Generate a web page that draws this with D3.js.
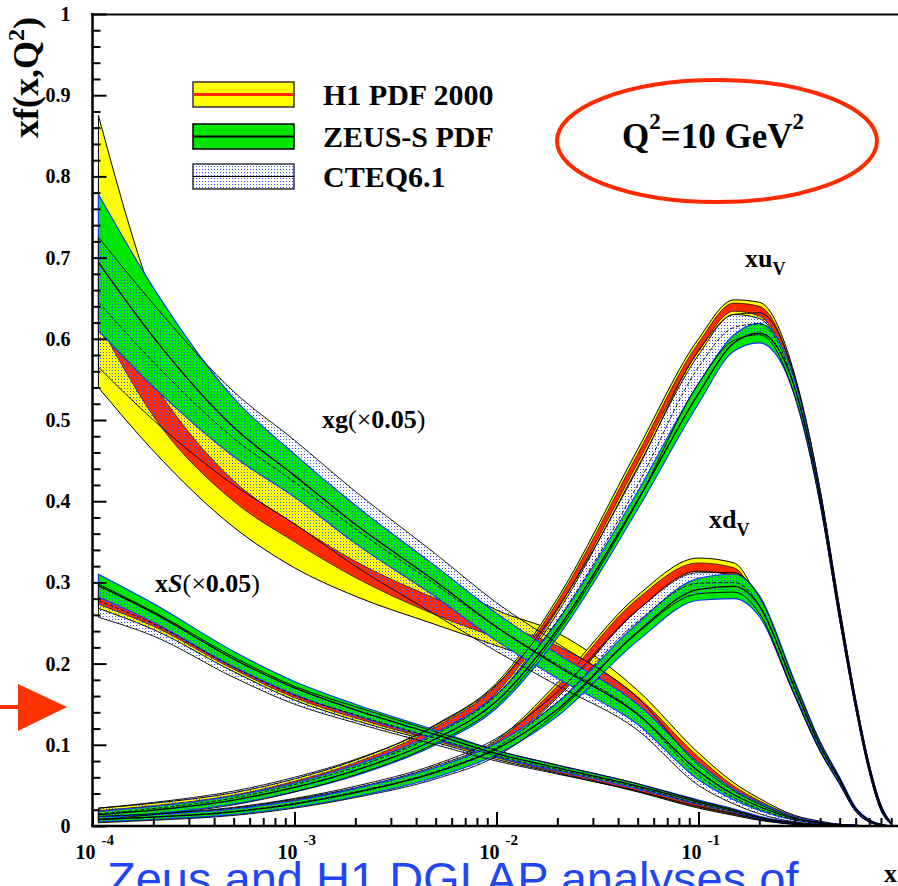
<!DOCTYPE html>
<html>
<head>
<meta charset="utf-8">
<style>
body { margin: 0; background: #fff; }
svg { display: block; }
text { font-family: "Liberation Serif", "Times New Roman", serif; font-weight: bold; fill: #000; }
text.caption { font-family: "Liberation Sans", Arial, sans-serif; font-weight: normal; fill: #1f45f5; }
</style>
</head>
<body>
<script src="https://cdn.jsdelivr.net/npm/d3@7/dist/d3.min.js"></script>
<script>
// x grid shared by every band
var xs = [1.07e-4, 2e-4, 5e-4, 1e-3, 2e-3, 5e-3, 1e-2, 2e-2, 5e-2, 0.1, 0.15, 0.2, 0.3, 0.4, 0.5, 0.6, 0.7, 0.8, 0.9];

// xg (x0.05)
var xgH1Lo    = [0.540, 0.462, 0.368, 0.318, 0.283, 0.248, 0.222, 0.195, 0.140, 0.065, 0.037, 0.022, 0.008, 0.003, 0.001, 0, 0, 0, 0];
var xgH1Hi    = [0.875, 0.650, 0.495, 0.435, 0.375, 0.308, 0.266, 0.238, 0.167, 0.090, 0.053, 0.034, 0.013, 0.006, 0.002, 0.001, 0, 0, 0];
var xgH1ExpLo = [0.620, 0.505, 0.400, 0.350, 0.306, 0.260, 0.232, 0.205, 0.146, 0.070, 0.041, 0.025, 0.009, 0.004, 0.001, 0, 0, 0, 0];
var xgH1ExpHi = [0.660, 0.545, 0.425, 0.372, 0.326, 0.280, 0.250, 0.222, 0.159, 0.085, 0.049, 0.031, 0.012, 0.005, 0.002, 0.001, 0, 0, 0];
var xgZeusLo  = [0.610, 0.541, 0.455, 0.405, 0.348, 0.282, 0.228, 0.182, 0.125, 0.057, 0.032, 0.019, 0.007, 0.003, 0.001, 0, 0, 0, 0];
var xgZeusHi  = [0.778, 0.663, 0.527, 0.458, 0.395, 0.320, 0.262, 0.212, 0.150, 0.078, 0.045, 0.029, 0.011, 0.005, 0.002, 0.001, 0, 0, 0];
var xgCteqLo  = [0.565, 0.500, 0.420, 0.372, 0.320, 0.260, 0.215, 0.173, 0.118, 0.050, 0.027, 0.015, 0.005, 0.002, 0, 0, 0, 0, 0];
var xgCteqHi  = [0.725, 0.643, 0.535, 0.475, 0.412, 0.335, 0.275, 0.225, 0.158, 0.075, 0.043, 0.027, 0.010, 0.004, 0.002, 0.001, 0, 0, 0];

// xS (x0.05)
var xsH1Lo    = [0.268, 0.242, 0.190, 0.155, 0.130, 0.103, 0.082, 0.065, 0.042, 0.022, 0.013, 0.007, 0.002, 0, 0, 0, 0, 0, 0];
var xsH1Hi    = [0.290, 0.260, 0.204, 0.168, 0.142, 0.112, 0.089, 0.071, 0.048, 0.028, 0.018, 0.010, 0.003, 0.001, 0, 0, 0, 0, 0];
var xsH1ExpLo = [0.273, 0.246, 0.193, 0.158, 0.133, 0.105, 0.084, 0.066, 0.043, 0.023, 0.014, 0.008, 0.002, 0, 0, 0, 0, 0, 0];
var xsH1ExpHi = [0.285, 0.256, 0.201, 0.165, 0.139, 0.110, 0.087, 0.069, 0.046, 0.026, 0.016, 0.009, 0.003, 0.001, 0, 0, 0, 0, 0];
var xsZeusLo  = [0.282, 0.251, 0.196, 0.162, 0.136, 0.107, 0.085, 0.068, 0.046, 0.027, 0.017, 0.009, 0.003, 0.001, 0, 0, 0, 0, 0];
var xsZeusHi  = [0.310, 0.274, 0.215, 0.178, 0.150, 0.118, 0.093, 0.075, 0.052, 0.032, 0.021, 0.012, 0.004, 0.001, 0, 0, 0, 0, 0];
var xsCteqLo  = [0.257, 0.234, 0.183, 0.150, 0.127, 0.100, 0.080, 0.064, 0.043, 0.024, 0.015, 0.008, 0.002, 0, 0, 0, 0, 0, 0];
var xsCteqHi  = [0.298, 0.264, 0.208, 0.172, 0.147, 0.116, 0.093, 0.075, 0.052, 0.031, 0.020, 0.011, 0.004, 0.001, 0, 0, 0, 0, 0];

// xu_V
var xuH1Lo    = [0.010, 0.016, 0.029, 0.046, 0.069, 0.111, 0.160, 0.262, 0.442, 0.580, 0.630, 0.625, 0.537, 0.398, 0.254, 0.145, 0.068, 0.020, 0.002];
var xuH1Hi    = [0.022, 0.028, 0.041, 0.058, 0.081, 0.125, 0.176, 0.280, 0.464, 0.600, 0.648, 0.645, 0.555, 0.414, 0.268, 0.156, 0.076, 0.026, 0.004];
var xuH1ExpLo = [0.013, 0.019, 0.032, 0.049, 0.072, 0.114, 0.164, 0.266, 0.447, 0.585, 0.634, 0.628, 0.540, 0.401, 0.257, 0.147, 0.070, 0.021, 0.003];
var xuH1ExpHi = [0.019, 0.025, 0.038, 0.055, 0.078, 0.122, 0.173, 0.276, 0.458, 0.595, 0.644, 0.640, 0.551, 0.411, 0.265, 0.154, 0.074, 0.024, 0.004];
var xuZeusLo  = [0.010, 0.015, 0.027, 0.042, 0.062, 0.100, 0.145, 0.232, 0.390, 0.520, 0.585, 0.595, 0.530, 0.398, 0.255, 0.146, 0.068, 0.020, 0.002];
var xuZeusHi  = [0.018, 0.024, 0.037, 0.053, 0.075, 0.115, 0.162, 0.252, 0.412, 0.545, 0.605, 0.619, 0.548, 0.412, 0.266, 0.155, 0.075, 0.025, 0.004];
var xuCteqLo  = [0.008, 0.014, 0.026, 0.042, 0.063, 0.102, 0.148, 0.238, 0.400, 0.545, 0.598, 0.605, 0.528, 0.396, 0.253, 0.144, 0.066, 0.019, 0.002];
var xuCteqHi  = [0.022, 0.029, 0.043, 0.060, 0.082, 0.124, 0.174, 0.268, 0.440, 0.585, 0.630, 0.632, 0.552, 0.414, 0.268, 0.156, 0.076, 0.026, 0.004];

// xd_V
var xdH1Lo    = [0.005, 0.008, 0.015, 0.025, 0.038, 0.063, 0.093, 0.158, 0.266, 0.314, 0.308, 0.262, 0.160, 0.092, 0.052, 0.018, 0.005, 0.001, 0];
var xdH1Hi    = [0.011, 0.014, 0.022, 0.033, 0.047, 0.074, 0.106, 0.176, 0.284, 0.330, 0.324, 0.276, 0.172, 0.100, 0.058, 0.022, 0.007, 0.002, 0];
var xdH1ExpLo = [0.006, 0.009, 0.016, 0.026, 0.040, 0.065, 0.095, 0.160, 0.266, 0.314, 0.308, 0.262, 0.161, 0.093, 0.052, 0.018, 0.005, 0.001, 0];
var xdH1ExpHi = [0.010, 0.013, 0.021, 0.032, 0.046, 0.072, 0.104, 0.172, 0.280, 0.324, 0.318, 0.272, 0.170, 0.099, 0.057, 0.021, 0.007, 0.002, 0];
var xdZeusLo  = [0.005, 0.008, 0.014, 0.023, 0.036, 0.060, 0.088, 0.135, 0.228, 0.278, 0.280, 0.258, 0.162, 0.094, 0.053, 0.019, 0.006, 0.001, 0];
var xdZeusHi  = [0.011, 0.014, 0.021, 0.031, 0.046, 0.072, 0.102, 0.152, 0.250, 0.305, 0.310, 0.284, 0.178, 0.104, 0.060, 0.023, 0.008, 0.002, 0];
var xdCteqLo  = [0.004, 0.007, 0.013, 0.022, 0.035, 0.058, 0.086, 0.140, 0.238, 0.286, 0.288, 0.262, 0.160, 0.092, 0.051, 0.018, 0.005, 0.001, 0];
var xdCteqHi  = [0.012, 0.015, 0.023, 0.034, 0.049, 0.076, 0.108, 0.165, 0.266, 0.312, 0.312, 0.282, 0.176, 0.103, 0.059, 0.022, 0.007, 0.002, 0];

// axes
var yMajorTicks = [0, 0.1, 0.2, 0.3, 0.4, 0.5, 0.6, 0.7, 0.8, 0.9, 1];
var yTickLabels = ["0", "0.1", "0.2", "0.3", "0.4", "0.5", "0.6", "0.7", "0.8", "0.9", "1"];
var xMajorTicks = [1e-4, 1e-3, 1e-2, 1e-1];
var xTickExps = ["-4", "-3", "-2", "-1"];
var legendNames = ["H1 PDF 2000", "ZEUS-S PDF", "CTEQ6.1"];

var W = 898, H = 886;
var x = d3.scaleLog().domain([1e-4, 1]).range([92.5, 900.5]);
var y = d3.scaleLinear().domain([0, 1]).range([826, 14]);

var svg = d3.select("body").append("svg").attr("width", W).attr("height", H);
var defs = svg.append("defs");
var pat = defs.append("pattern").attr("id", "dots")
    .attr("width", 3).attr("height", 3).attr("patternUnits", "userSpaceOnUse");
pat.append("rect").attr("x", 1).attr("y", 1).attr("width", 1).attr("height", 1).attr("fill", "#3355ff");
defs.append("clipPath").attr("id", "plotclip").append("rect")
    .attr("x", 92.5).attr("y", 14).attr("width", W - 92.5).attr("height", 812);

var dists = [
    {h1: [xgH1Lo, xgH1Hi], h1e: [xgH1ExpLo, xgH1ExpHi], zeus: [xgZeusLo, xgZeusHi], cteq: [xgCteqLo, xgCteqHi]},
    {h1: [xsH1Lo, xsH1Hi], h1e: [xsH1ExpLo, xsH1ExpHi], zeus: [xsZeusLo, xsZeusHi], cteq: [xsCteqLo, xsCteqHi]},
    {h1: [xuH1Lo, xuH1Hi], h1e: [xuH1ExpLo, xuH1ExpHi], zeus: [xuZeusLo, xuZeusHi], cteq: [xuCteqLo, xuCteqHi]},
    {h1: [xdH1Lo, xdH1Hi], h1e: [xdH1ExpLo, xdH1ExpHi], zeus: [xdZeusLo, xdZeusHi], cteq: [xdCteqLo, xdCteqHi]}
];

var area = d3.area()
    .x(function (d, i) { return x(xs[i]); })
    .y0(function (d) { return y(d[0]); })
    .y1(function (d) { return y(d[1]); })
    .curve(d3.curveMonotoneX);
var mid = d3.line()
    .x(function (d, i) { return x(xs[i]); })
    .y(function (d) { return y((d[0] + d[1]) / 2); })
    .curve(d3.curveMonotoneX);

var plot = svg.append("g").attr("clip-path", "url(#plotclip)");

function drawBands(key, fill, stroke, sw) {
    dists.forEach(function (d) {
        plot.append("path")
            .datum(d3.zip(d[key][0], d[key][1]))
            .attr("d", area)
            .attr("fill", fill)
            .attr("stroke", stroke)
            .attr("stroke-width", sw);
    });
}
drawBands("h1", "#ffff00", "#000", 1);
drawBands("h1e", "#ff2a00", "#000", 0.7);
drawBands("zeus", "#00e600", "#1030ff", 1.1);
drawBands("cteq", "url(#dots)", "#000", 0.9);

dists.forEach(function (d) {
    plot.append("path").datum(d3.zip(d.zeus[0], d.zeus[1])).attr("d", mid)
        .attr("fill", "none").attr("stroke", "#000").attr("stroke-width", 1.3);
    plot.append("path").datum(d3.zip(d.cteq[0], d.cteq[1])).attr("d", mid)
        .attr("fill", "none").attr("stroke", "#000").attr("stroke-width", 0.9)
        .attr("stroke-dasharray", "4,2");
});

// axes: ticks point inward
var yMinorTicks = d3.range(0, 51).map(function (i) { return i / 50; })
    .filter(function (v, i) { return i % 5 != 0; });
var xMinorTicks = [];
[1e-4, 1e-3, 1e-2, 1e-1].forEach(function (dec) {
    for (var k = 2; k <= 9; k++) xMinorTicks.push(dec * k);
});

function styleAxis(g) {
    g.select(".domain").remove();
    g.selectAll(".tick line").attr("stroke", "#000").attr("stroke-width", 2);
}

svg.append("g").attr("transform", "translate(92.5,0)")
    .call(d3.axisLeft(y).tickValues(yMinorTicks).tickSize(-8).tickFormat(""))
    .call(styleAxis);
svg.append("g").attr("transform", "translate(92.5,0)")
    .call(d3.axisLeft(y).tickValues(yMajorTicks).tickSize(-14).tickPadding(22)
        .tickFormat(function (d, i) { return yTickLabels[i]; }))
    .call(styleAxis)
    .selectAll("text")
    .attr("font-family", "Liberation Serif, serif")
    .attr("font-weight", "bold")
    .attr("font-size", 20)
    .attr("fill", "#000");

svg.append("g").attr("transform", "translate(0,826)")
    .call(d3.axisBottom(x).tickValues(xMinorTicks).tickSize(-8).tickFormat(""))
    .call(styleAxis);
svg.append("g").attr("transform", "translate(0,826)")
    .call(d3.axisBottom(x).tickValues(xMajorTicks).tickSize(-14).tickFormat(""))
    .call(styleAxis);

xMajorTicks.forEach(function (v, i) {
    svg.append("text").attr("x", x(v) + 3).attr("y", 859)
        .attr("text-anchor", "end").attr("font-size", 20).text("10");
    svg.append("text").attr("x", x(v) + 9).attr("y", 845)
        .attr("font-size", 15).text(xTickExps[i]);
});

// frame
svg.append("line").attr("x1", 92.5).attr("y1", 13).attr("x2", 92.5).attr("y2", 827)
    .attr("stroke", "#000").attr("stroke-width", 2.5);
svg.append("line").attr("x1", 91).attr("y1", 826).attr("x2", W).attr("y2", 826)
    .attr("stroke", "#000").attr("stroke-width", 2.5);
svg.append("line").attr("x1", 91).attr("y1", 14.5).attr("x2", W).attr("y2", 14.5)
    .attr("stroke", "#000").attr("stroke-width", 2.2);

// axis titles
var yt = svg.append("text").attr("transform", "translate(38,138) rotate(-90)")
    .attr("font-size", 36);
yt.append("tspan").text("xf(x,Q");
yt.append("tspan").attr("dy", -14).attr("font-size", 24).text("2");
yt.append("tspan").attr("dy", 14).text(")");
svg.append("text").attr("x", 884).attr("y", 882).attr("font-size", 26).text("x");

// legend
var legY = [82, 124, 164];
var lg = svg.append("g");
lg.append("rect").attr("x", 193).attr("y", legY[0]).attr("width", 101).attr("height", 25)
    .attr("fill", "#ffff00").attr("stroke", "#333").attr("stroke-width", 1.5);
lg.append("line").attr("x1", 193).attr("x2", 294).attr("y1", legY[0] + 12.5).attr("y2", legY[0] + 12.5)
    .attr("stroke", "#ff2a00").attr("stroke-width", 3);
lg.append("rect").attr("x", 193).attr("y", legY[1]).attr("width", 101).attr("height", 25)
    .attr("fill", "#00e600").attr("stroke", "#000").attr("stroke-width", 1.5);
lg.append("line").attr("x1", 193).attr("x2", 294).attr("y1", legY[1] + 12.5).attr("y2", legY[1] + 12.5)
    .attr("stroke", "#000").attr("stroke-width", 2);
lg.append("rect").attr("x", 193).attr("y", legY[2]).attr("width", 101).attr("height", 25)
    .attr("fill", "url(#dots)").attr("stroke", "#334").attr("stroke-width", 1.5);
lg.append("line").attr("x1", 193).attr("x2", 294).attr("y1", legY[2] + 12.5).attr("y2", legY[2] + 12.5)
    .attr("stroke", "#000").attr("stroke-width", 1.2);
legendNames.forEach(function (n, i) {
    lg.append("text").attr("x", 323).attr("y", legY[i] + 23).attr("font-size", 30).text(n);
});

// Q2 ellipse
svg.append("ellipse").attr("cx", 717).attr("cy", 141).attr("rx", 160).attr("ry", 61)
    .attr("fill", "none").attr("stroke", "#ff2a00").attr("stroke-width", 4);
var qt = svg.append("text").attr("x", 622).attr("y", 148).attr("font-size", 35);
qt.append("tspan").text("Q");
qt.append("tspan").attr("dy", -19).attr("font-size", 23).text("2");
qt.append("tspan").attr("dy", 19).text("=10 GeV");
qt.append("tspan").attr("dy", -19).attr("font-size", 23).text("2");

// curve labels
var tg = svg.append("text").attr("x", 322).attr("y", 428).attr("font-size", 26);
tg.append("tspan").text("xg");
tg.append("tspan").attr("font-weight", "normal").text("(\u00d7");
tg.append("tspan").text("0.05");
tg.append("tspan").attr("font-weight", "normal").text(")");

var ts = svg.append("text").attr("x", 155).attr("y", 592).attr("font-size", 26);
ts.append("tspan").text("x");
ts.append("tspan").attr("font-style", "italic").text("S");
ts.append("tspan").attr("font-weight", "normal").text("(\u00d7");
ts.append("tspan").text("0.05");
ts.append("tspan").attr("font-weight", "normal").text(")");

var tu = svg.append("text").attr("x", 745).attr("y", 267).attr("font-size", 26);
tu.append("tspan").text("xu");
tu.append("tspan").attr("dy", 8).attr("font-size", 18).text("V");
var td = svg.append("text").attr("x", 709).attr("y", 528).attr("font-size", 26);
td.append("tspan").text("xd");
td.append("tspan").attr("dy", 8).attr("font-size", 18).text("V");

// red arrow
svg.append("line").attr("x1", 0).attr("y1", 707).attr("x2", 22).attr("y2", 707)
    .attr("stroke", "#ff3300").attr("stroke-width", 4);
svg.append("path").attr("d", d3.line()([[18, 684], [67, 707], [18, 731]]) + "Z")
    .attr("fill", "#ff3300");

// caption (cut off at the bottom)
svg.append("text").attr("class", "caption").attr("x", 107).attr("y", 895)
    .attr("font-size", 47)
    .text("Zeus and H1 DGLAP analyses of");
</script>
</body>
</html>
